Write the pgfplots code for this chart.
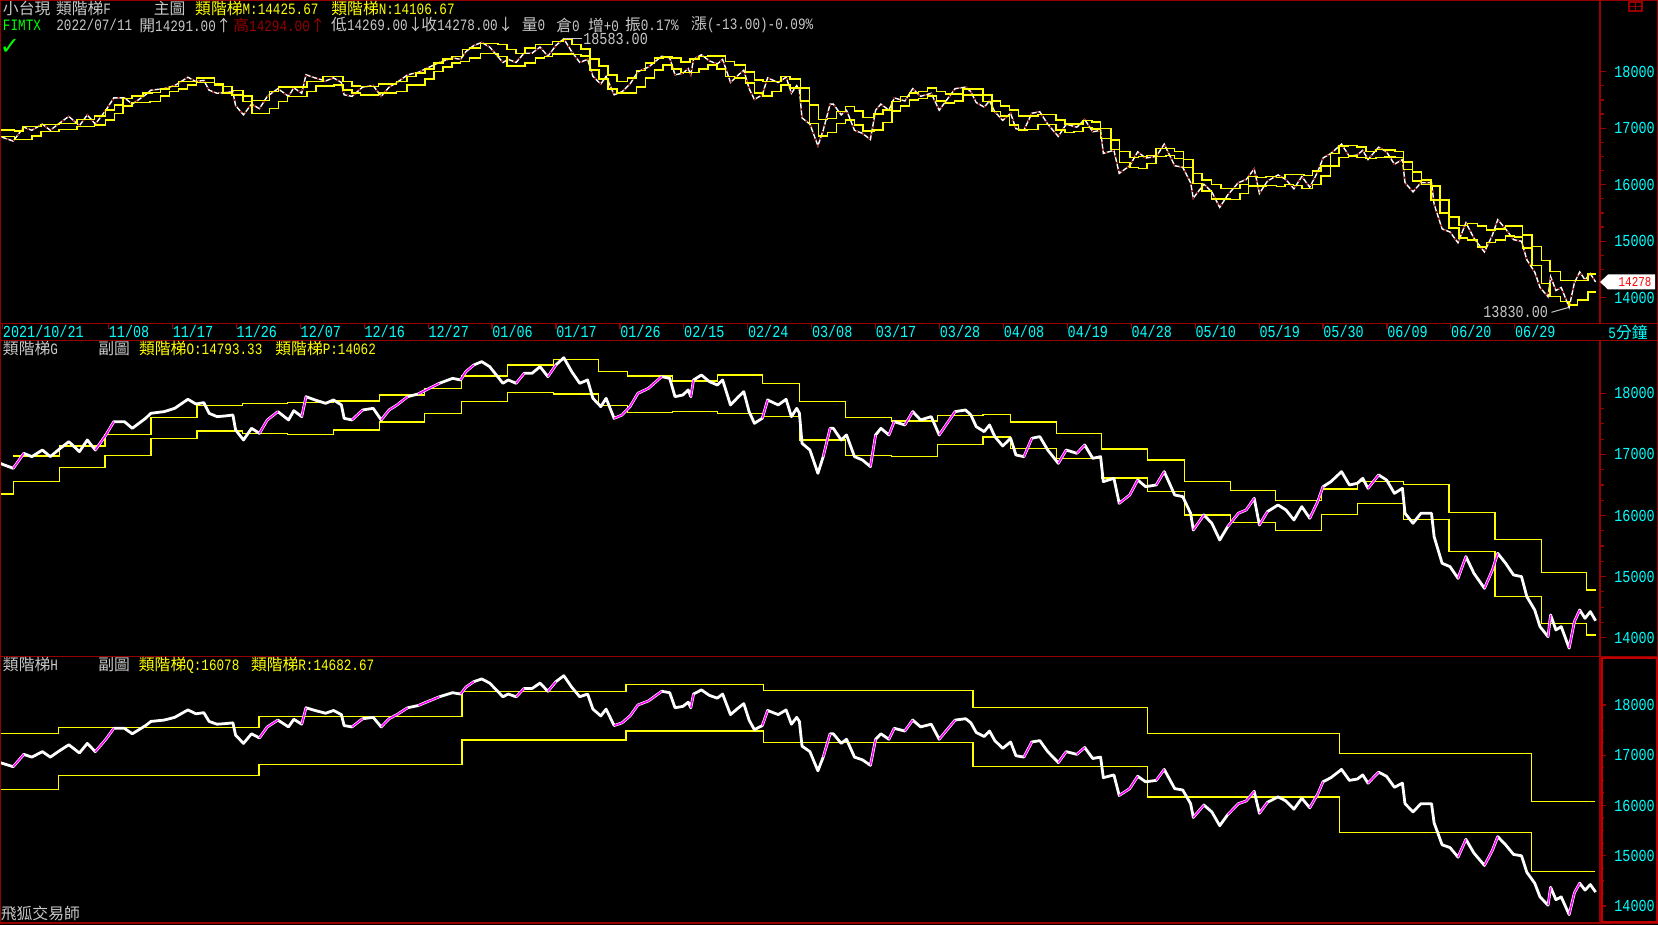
\documentclass[border=0pt]{standalone}
\usepackage{fontspec}
\setmainfont{Liberation Mono}[FakeStretch=0.8]
\newfontfamily\cjk{Noto Sans CJK TC}
\newfontfamily\dejavu{DejaVu Sans}
\usepackage{pgfplots}
\usepackage{pgfplotstable}
\pgfplotsset{compat=1.18}

\definecolor{dred}{RGB}{150,0,0}
\definecolor{tcyan}{RGB}{0,255,255}
\definecolor{ylw}{RGB}{255,255,0}
\definecolor{mag}{RGB}{255,0,255}
\definecolor{cred}{RGB}{150,0,0}
\definecolor{lgray}{RGB}{200,200,200}
\definecolor{grn}{RGB}{0,255,0}

\newcommand\tf{\fontsize{8.4}{9}\selectfont}
\newcommand\hf{\fontsize{7.9}{9}\selectfont}

% price, 5 min bars thinned out
\pgfplotstableread{
x y
0 16854
13.2 16772
23.8 17018
31.8 16963
42.4 17072
50.3 16963
58.2 17072
68.8 17209
79.4 17045
87.3 17236
95.3 17072
105.9 17318
113.8 17536
124.4 17536
132.3 17427
145.6 17591
150.9 17673
164.1 17700
174.7 17754
187.9 17902
195.9 17825
203.8 17847
209.1 17673
217.0 17618
225.0 17629
232.9 17645
235.6 17400
243.5 17236
251.5 17427
259.4 17345
267.3 17564
277.9 17700
288.5 17564
293.8 17716
301.7 17618
306.0 17945
315.0 17891
325.6 17836
333.5 17891
341.4 17809
344.1 17591
352.0 17564
362.6 17727
373.2 17754
381.2 17564
389.1 17727
397.0 17809
407.6 17945
418.2 17989
426.1 18055
439.4 18164
452.6 18245
460.6 18218
465.9 18355
473.8 18464
481.7 18518
489.7 18436
497.6 18273
502.9 18164
508.2 18218
516.1 18164
524.1 18327
532.0 18327
540.0 18436
547.9 18273
555.9 18464
563.8 18583
571.7 18355
579.7 18164
587.6 18218
592.9 17918
600.8 17782
606.1 17918
614.1 17591
622.0 17645
630.0 17782
637.9 18000
648.5 18082
661.7 18273
669.7 18245
675.0 17945
682.9 17973
688.2 18055
690.8 17945
693.5 18218
701.4 18300
709.4 18191
717.3 18136
722.6 18218
730.5 17809
738.5 17945
743.8 18027
749.1 17700
754.4 17509
762.3 17591
767.6 17891
778.2 17809
786.1 17902
791.4 17618
796.7 17754
799.4 17673
802.0 17182
809.9 17072
817.9 16690
823.2 16963
830.1 17427
833.3 17427
841.2 17236
846.5 17318
854.5 16963
862.4 16909
870.4 16800
875.6 17318
880.9 17427
888.9 17318
894.2 17536
904.8 17482
912.7 17700
920.6 17564
931.2 17618
939.2 17318
947.1 17509
955.1 17700
965.6 17727
970.9 17645
976.2 17454
984.2 17373
989.5 17482
994.8 17291
1002.7 17138
1010.6 17264
1015.9 16991
1023.9 16963
1031.8 17264
1039.8 17291
1047.7 17072
1058.3 16854
1066.2 17072
1076.8 17018
1084.7 17154
1092.7 16936
1100.6 16963
1103.3 16554
1113.9 16609
1119.2 16200
1129.7 16336
1137.7 16582
1145.6 16472
1156.2 16500
1164.2 16718
1174.7 16336
1182.7 16309
1190.6 16036
1193.3 15763
1203.9 16009
1211.8 15873
1219.7 15599
1227.7 15818
1238.3 16036
1246.2 16091
1254.2 16281
1259.4 15845
1267.4 16063
1278.0 16173
1285.9 16091
1293.9 15927
1301.8 16145
1309.7 15955
1317.7 16227
1323.0 16472
1330.9 16554
1341.5 16718
1349.4 16500
1357.4 16527
1362.7 16609
1368.0 16445
1378.6 16664
1386.5 16582
1394.4 16363
1402.4 16445
1405.0 16036
1413.0 15873
1420.9 16036
1431.5 16036
1434.1 15654
1442.1 15218
1450.0 15163
1458.0 14972
1465.9 15327
1473.9 15054
1484.4 14808
1492.4 15109
1497.7 15381
1505.6 15218
1513.5 15027
1521.5 15000
1526.8 14672
1534.7 14454
1540.0 14181
1548.0 14017
1550.6 14372
1555.9 14127
1561.2 14181
1569.1 13830
1574.4 14263
1579.7 14454
1585.0 14317
1590.3 14427
1595.6 14278
}\price

% rising stretches of the price (drawn magenta in the sub charts)
\pgfplotstableread{
x y
13.2 16772
23.8 17018
nan nan
95.3 17072
105.9 17318
113.8 17536
nan nan
259.4 17345
267.3 17564
277.9 17700
nan nan
301.7 17618
306.0 17945
nan nan
352.0 17564
362.6 17727
nan nan
381.2 17564
389.1 17727
397.0 17809
407.6 17945
nan nan
418.2 17989
426.1 18055
439.4 18164
nan nan
460.6 18218
465.9 18355
473.8 18464
nan nan
516.1 18164
524.1 18327
nan nan
547.9 18273
555.9 18464
nan nan
614.1 17591
622.0 17645
630.0 17782
637.9 18000
648.5 18082
661.7 18273
nan nan
690.8 17945
693.5 18218
nan nan
762.3 17591
767.6 17891
nan nan
823.2 16963
830.1 17427
nan nan
870.4 16800
875.6 17318
nan nan
888.9 17318
894.2 17536
nan nan
904.8 17482
912.7 17700
nan nan
939.2 17318
947.1 17509
955.1 17700
nan nan
1023.9 16963
1031.8 17264
nan nan
1058.3 16854
1066.2 17072
nan nan
1076.8 17018
1084.7 17154
nan nan
1119.2 16200
1129.7 16336
1137.7 16582
nan nan
1156.2 16500
1164.2 16718
nan nan
1193.3 15763
1203.9 16009
nan nan
1227.7 15818
1238.3 16036
1246.2 16091
1254.2 16281
nan nan
1259.4 15845
1267.4 16063
nan nan
1309.7 15955
1317.7 16227
1323.0 16472
nan nan
1368.0 16445
1378.6 16664
nan nan
1458.0 14972
1465.9 15327
nan nan
1484.4 14808
1492.4 15109
1497.7 15381
nan nan
1548.0 14017
1550.6 14372
nan nan
1569.1 13830
1574.4 14263
1579.7 14454
}\up

% main chart ladders (upper / lower)
\pgfplotstableread{
x y
0 16968
14.3 16950
23.2 17027
41.1 17069
58.9 17086
76.8 17157
94.6 17217
105.4 17323
114.3 17412
123.2 17530
132.1 17572
142.9 17619
151.8 17631
160.7 17690
169.6 17738
178.6 17826
196.4 17886
214.3 17779
223.2 17738
232.1 17667
242.9 17572
251.8 17489
269.6 17649
278.6 17726
307.1 17826
323.2 17915
342.9 17826
351.8 17749
360.7 17738
378.6 17785
396.4 17826
407.1 17915
416.1 17974
425 18045
433.9 18152
442.9 18223
451.8 18270
462.5 18389
469.6 18418
480.4 18495
498.2 18478
507.1 18389
516.1 18318
525 18418
535.7 18478
552.5 18537
563.2 18566
572.1 18478
581.1 18401
590 18223
598.9 18105
607.9 17945
616.8 17826
627.5 17886
636.4 18022
645.4 18152
654.3 18241
663.2 18259
672.1 18241
681.1 18170
690 18223
698.9 18270
707.9 18282
725.7 18182
734.6 18122
745.4 17992
754.3 17856
763.2 17826
781.1 17915
790 17868
800.7 17708
809.6 17412
818.6 17157
827.5 17175
836.4 17294
845.4 17382
854.3 17305
863.2 17193
873.9 17252
882.9 17323
891.8 17471
900.7 17560
909.6 17619
918.6 17649
927.5 17708
936.4 17649
945.4 17607
963.2 17690
982.9 17590
991.8 17483
1000.7 17394
1009.6 17323
1018.6 17217
1038.2 17246
1056.1 17146
1065 17075
1082.9 17134
1092.1 17113
1100.7 16994
1111 16793
1119.6 16586
1129.9 16479
1138.5 16497
1147.1 16521
1155.8 16639
1174.7 16586
1183.3 16450
1192.9 16201
1202.2 16083
1211.5 16006
1221.2 15929
1240.1 16006
1248.7 16142
1257.3 16124
1266 16142
1276.3 16124
1284.9 16183
1303.8 16165
1312.4 16242
1321 16331
1330.3 16556
1339 16686
1348.6 16698
1357.2 16669
1365.8 16586
1376.1 16627
1384.8 16615
1395.1 16586
1403.7 16402
1412.3 16225
1421.6 16083
1431.2 15976
1439.9 15727
1449.1 15431
1458.8 15277
1467.4 15313
1477.7 15266
1486.3 15195
1495.6 15218
1505.3 15266
1522.5 15106
1531.8 14910
1541.4 14662
1550 14466
1560.4 14307
1587.9 14419
1595.5 14419
}\ladM

\pgfplotstableread{
x y
0 16850
14.3 16802
32.1 16861
41.1 16938
58.9 16980
76.8 17027
94.6 17057
105.4 17146
114.3 17264
123.2 17394
132.1 17453
150 17471
160.7 17572
169.6 17649
178.6 17690
187.5 17767
196.4 17809
214.3 17767
223.2 17619
232.1 17590
242.9 17471
251.8 17264
269.6 17353
278.6 17471
287.5 17560
307.1 17649
316.1 17749
333.9 17767
342.9 17678
351.8 17619
360.7 17590
378.6 17619
396.4 17649
407.1 17767
425 17868
433.9 18004
442.9 18081
451.8 18152
460.7 18182
469.6 18241
480.4 18318
498.2 18270
507.1 18105
525 18152
535.7 18241
544.6 18270
552.5 18312
572.1 18300
581.1 18282
590 18034
598.9 17868
607.9 17690
616.8 17619
636.4 17726
645.4 17886
654.3 18034
663.2 18122
672.1 18045
681.1 17986
698.9 18045
707.9 18122
716.8 18045
725.7 17915
734.6 17886
745.4 17797
754.3 17619
763.2 17572
772.1 17649
781.1 17767
790 17708
800.7 17483
809.6 17086
818.6 16861
827.5 16921
836.4 17086
845.4 17146
854.3 17057
863.2 16950
873.9 16968
882.9 17098
891.8 17305
900.7 17394
909.6 17501
918.6 17530
927.5 17572
936.4 17483
945.4 17442
954.3 17483
963.2 17590
982.9 17471
991.8 17294
1000.7 17217
1009.6 17057
1018.6 16968
1027.5 16980
1038.2 17069
1056.1 16968
1065 16921
1073.9 16938
1082.9 17015
1092.1 16982
1100.7 16817
1111 16627
1119.6 16390
1129.9 16302
1138.5 16284
1147.1 16373
1155.8 16497
1166.1 16521
1174.7 16461
1183.3 16302
1192.9 16023
1202.2 15887
1211.5 15751
1230.5 15739
1240.1 15846
1248.7 15976
1266 15988
1276.3 15964
1284.9 16006
1293.5 15988
1302.1 15929
1312.4 16006
1321 16154
1330.3 16331
1339 16479
1348.6 16509
1357.2 16479
1365.8 16461
1376.1 16479
1384.8 16491
1395.1 16479
1403.7 16272
1412.3 16065
1421.6 16006
1431.2 15727
1439.9 15502
1449.1 15236
1458.8 15058
1467.4 15017
1477.7 14899
1486.3 14981
1495.6 15017
1505.3 15088
1514.6 15076
1522.5 14881
1531.8 14567
1541.4 14247
1550 14022
1560.4 13934
1569 13874
1577.6 13963
1587.9 14099
1595.5 14099
}\ladN

\pgfplotstableread{
x y
13.2 16974
59.3 17138
104.8 17329
150.9 17607
196.9 17804
242.5 17836
287.5 17853
333.5 17875
379.6 17973
424.6 18082
461.6 18284
507.2 18464
553.2 18557
598.2 18355
627.3 18284
672.3 18202
717.3 18300
762.3 18164
799.4 17869
845.5 17607
891.5 17547
937.6 17640
983.1 17651
1010.6 17531
1056.7 17345
1101.7 17089
1147.7 16909
1184.3 16554
1230.3 16412
1275.3 16243
1321.4 16434
1357.4 16554
1403.5 16510
1449 16052
1495 15610
1541.6 15070
1586.6 14781
1595.6 14781
}\ladO

\pgfplotstableread{
x y
0 16352
13.2 16554
59.3 16789
104.8 16985
150.9 17263
196.9 17383
242.5 17345
287.5 17329
333.5 17400
379.6 17531
424.6 17673
461.6 17869
507.2 18016
553.2 17989
598.2 17804
627.3 17689
672.3 17705
717.3 17673
762.3 17624
799.4 17236
845.5 16985
891.5 16969
937.6 17165
983.1 17285
1010.6 17100
1056.7 16936
1101.7 16614
1147.7 16396
1184.3 16009
1230.3 15889
1275.3 15758
1321.4 16019
1357.4 16200
1403.5 15938
1449 15414
1495 14677
1541.6 14235
1586.6 14044
1595.6 14044
}\ladP

\pgfplotstableread{
x y
0 17436
58.2 17556
259.1 17774
462.1 18265
626 18411
763.5 18292
972.8 17954
1147.3 17436
1339.7 17032
1531.2 16083
1594.6 16083
}\ladQ

\pgfplotstableread{
x y
0 16322
58.2 16600
259.1 16819
462.1 17304
626 17483
763.5 17257
972.8 16780
1147.3 16169
1339.7 15466
1531.2 14690
1594.6 14690
}\ladR

\pgfplotsset{
  panel/.style={
    scale only axis, width=800pt, xmin=0, xmax=1600,
    axis line style={draw=dred, line width=0.7pt},
    ytick={14000,15000,16000,17000,18000}, minor y tick num=3,
    scaled y ticks=false,
    ytick pos=right, yticklabel pos=right, tick align=outside,
    major tick length=3pt, minor tick length=1.8pt,
    tick style={dred, line width=0.6pt},
    yticklabel style={text=tcyan, font=\tf, anchor=west, inner sep=0pt, xshift=4pt},
    /pgf/number format/1000 sep={},
    /pgf/number format/assume math mode=true,
    unbounded coords=jump,
    clip=false,
  },
}
\newcommand\tk[4]{\node[anchor=west,inner sep=0pt,text=#3,font=\hf] at (#1,#2) {#4};}

\begin{document}
\begin{tikzpicture}
\useasboundingbox (0,0) rectangle (829pt,-462.5pt);
\fill[black] (0,0) rectangle (829pt,-462.5pt);

% main chart
\begin{axis}[panel, at={(0pt,0pt)}, anchor=north west, height=161.65pt,
  ymin=13547, ymax=19269,
  xtick={2.6,108.5,172.4,236.3,300.3,364.2,428.1,492.0,555.9,619.9,683.8,747.7,811.6,875.5,939.5,1003.4,1067.3,1131.2,1195.1,1259.1,1323.0,1386.9,1450.8,1514.7},
  xticklabels={2021/10/21,11/08,11/17,11/26,12/07,12/16,12/27,01/06,01/17,01/26,02/15,02/24,03/08,03/17,03/28,04/08,04/19,04/28,05/10,05/19,05/30,06/09,06/20,06/29},
  xtick pos=bottom, minor x tick num=2,
  xticklabel style={text=tcyan, font=\tf, anchor=north west, inner sep=0pt, yshift=2pt},
]
\addplot[white, line width=0.7pt] table {\price};
\addplot[cred, line width=0.7pt, dash pattern=on 1pt off 2.5pt] table {\price};
\addplot[ylw, line width=0.75pt, const plot] table {\ladM};
\addplot[ylw, line width=0.75pt, const plot] table {\ladN};
\draw[lgray, line width=0.5pt] (axis cs:563.8,18583) -- ++(9pt,0pt)
  node[anchor=west, inner sep=0.5pt, text=lgray, font=\tf] {18583.00};
\draw[lgray, line width=0.5pt] (axis cs:1569,13830) -- ++(-8.8pt,-2.5pt)
  node[anchor=east, inner sep=1.5pt, text=lgray, font=\tf] {13830.00};
\fill[white] (axis cs:1600,14278) -- ++(4pt,3.75pt) -- ++(23.5pt,0pt) -- ++(0pt,-7.5pt) -- ++(-23.5pt,0pt) -- cycle;
\node[text=red, font=\fontsize{6.8}{7}\selectfont, inner sep=0pt] at (axis cs:1600,14278) [xshift=17.5pt] {14278};
\end{axis}

% sub chart G
\begin{axis}[panel, at={(0pt,-170.35pt)}, anchor=north west, height=158pt,
  ymin=13689, ymax=18861, xtick=\empty]
\addplot[ylw, line width=0.7pt, const plot] table {\ladO};
\addplot[ylw, line width=0.7pt, const plot] table {\ladP};
\addplot[white, line width=1.4pt, line join=round] table {\price};
\addplot[mag, line width=0.75pt] table {\up};
\end{axis}

% sub chart H
\begin{axis}[panel, at={(0pt,-328.35pt)}, anchor=north west, height=132.9pt,
  ymin=13672, ymax=18961, xtick=\empty]
\addplot[ylw, line width=0.7pt, const plot] table {\ladQ};
\addplot[ylw, line width=0.7pt, const plot] table {\ladR};
\addplot[white, line width=1.4pt, line join=round] table {\price};
\addplot[mag, line width=0.75pt] table {\up};
\end{axis}

\begin{scope}[x=0.5pt,y=-0.5pt]
\draw[dred, line width=0.7pt] (0.5,0.5) rectangle (1657.5,923);
\draw[dred, line width=0.7pt] (0,323.3) -- (1658,323.3);
\draw[dred, line width=0.7pt] (0,340.7) -- (1658,340.7);
\draw[dred, line width=0.7pt] (0,656.7) -- (1658,656.7);
\draw[red!75!black, line width=0.7pt] (1602,658) rectangle (1657,922);
\draw[dred, line width=0.6pt] (1629,2) rectangle (1642,11) (1635.5,2) -- (1635.5,11) (1629,6.5) -- (1642,6.5);
% header lines
\tk{2.6}{8.5}{lgray}{{\cjk 小台現}}
\tk{55.6}{8.5}{lgray}{{\cjk 類階梯}F}
\tk{153.5}{8.5}{lgray}{{\cjk 主圖}}
\tk{194.8}{8.5}{ylw}{{\cjk 類階梯}M:14425.67}
\tk{331}{8.5}{ylw}{{\cjk 類階梯}N:14106.67}
\tk{2.6}{25}{grn}{FIMTX}
\tk{56}{25}{lgray}{2022/07/11}
\tk{139}{25}{lgray}{{\cjk 開}14291.00{\cjk ↑}}
\tk{233}{25}{cred}{{\cjk 高}14294.00{\cjk ↑}}
\tk{330.8}{25}{lgray}{{\cjk 低}14269.00{\cjk ↓}}
\tk{420.9}{25}{lgray}{{\cjk 收}14278.00{\cjk ↓}}
\tk{521.4}{25}{lgray}{{\cjk 量}0}
\tk{555.9}{25}{lgray}{{\cjk 倉}0}
\tk{587.6}{25}{lgray}{{\cjk 增}+0}
\tk{624.7}{25}{lgray}{{\cjk 振}0.17\%}
\tk{690.8}{25}{lgray}{{\cjk 漲}(-13.00)-0.09\%}
\node[text=grn, font=\dejavu\bfseries\fontsize{12}{12}\selectfont, inner sep=0pt] at (10,46.5) {✓};
\node[text=tcyan, font=\hf, inner sep=0pt] at (1628,332.5) {5{\cjk 分鐘}};
\tk{2.6}{348.3}{lgray}{{\cjk 類階梯}G}
\tk{98}{348.3}{lgray}{{\cjk 副圖}}
\tk{138.7}{348.3}{ylw}{{\cjk 類階梯}O:14793.33}
\tk{275}{348.3}{ylw}{{\cjk 類階梯}P:14062}
\tk{2.6}{665}{lgray}{{\cjk 類階梯}H}
\tk{98}{665}{lgray}{{\cjk 副圖}}
\tk{138.5}{665}{ylw}{{\cjk 類階梯}Q:16078}
\tk{250.6}{665}{ylw}{{\cjk 類階梯}R:14682.67}
\tk{0.5}{913.6}{lgray}{{\cjk 飛狐交易師}}
\end{scope}
\end{tikzpicture}
\end{document}
